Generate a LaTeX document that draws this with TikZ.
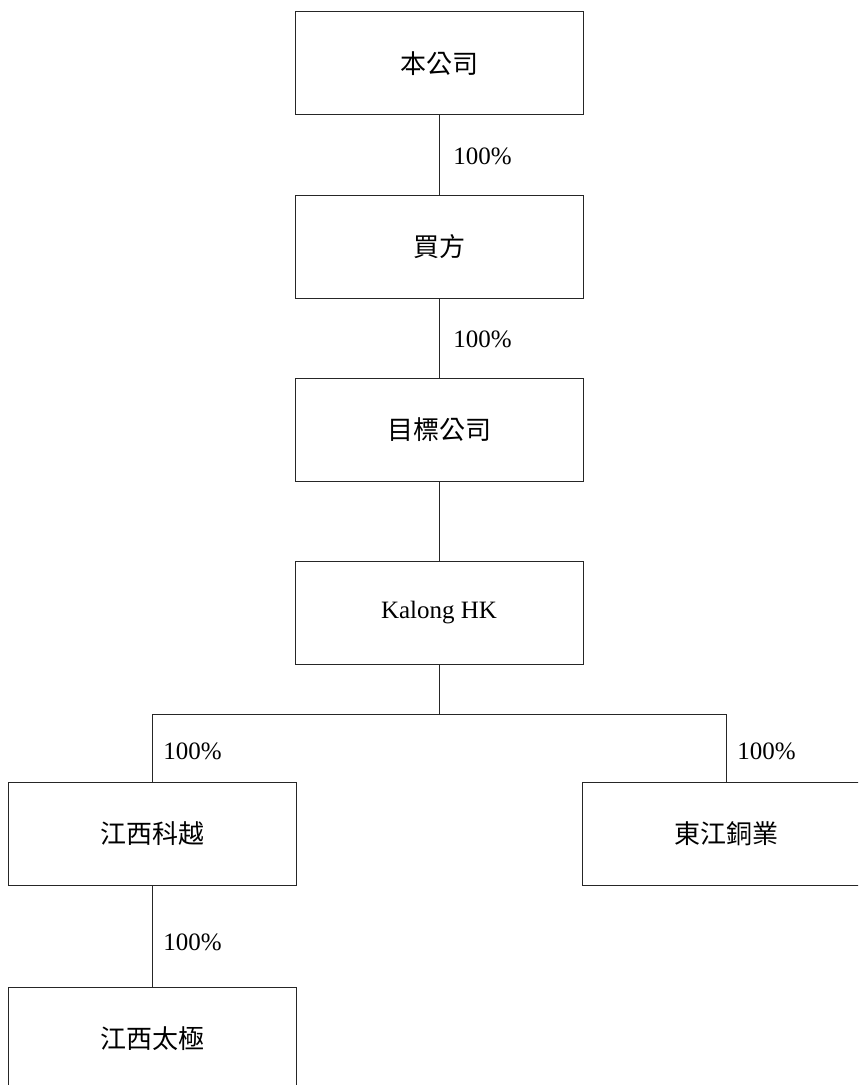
\documentclass[tikz,border=0pt]{standalone}
\usepackage{fontspec}
\setmainfont{Liberation Serif}
\newfontfamily\cjk{Noto Sans CJK TC}
\usepackage{tikz}
\usetikzlibrary{positioning,calc}
\tikzset{
    company/.style={
        rectangle,
        draw=black!85,
        line width=0.5pt,
        minimum width=144pt,
        minimum height=51.5pt,
        inner sep=0pt,
        font=\fontsize{13}{15}\selectfont\cjk
    },
    share/.style={anchor=west, inner sep=0pt, font=\fontsize{12.5}{15}\selectfont},
    link/.style={draw=black!85, line width=0.5pt}
}

\begin{document}
\begin{tikzpicture}[x=0.5pt, y=-0.5pt]
        % Area del disegno
        \path[use as bounding box, fill=white] (0,0) rectangle (858,1085);
        \clip (0,0) rectangle (858,1085);

        % Societa
        \node[company] (bengs) at (439,63.5) {本公司};
        \node[company] (maifang) at (439,247) {買方};
        \node[company] (mubiao) at (439,429.5) {目標公司};
        \node[company, font=\fontsize{12.5}{15}\selectfont] (kalong) at (439,613) {Kalong HK};
        \node[company] (kexue) at (152.5,834) {江西科越};
        \node[company] (tongye) at (726,834) {東江銅業};
        \node[company] (taiji) at (152.5,1038.5) {江西太極};

        % Collegamenti
        \draw[link] (bengs) -- (maifang);
        \draw[link] (maifang) -- (mubiao);
        \draw[link] (mubiao) -- (kalong);
        \coordinate (ramo) at (439,714);
        \draw[link] (kalong) -- (ramo);
        \draw[link] (ramo) -| (kexue);
        \draw[link] (ramo) -| (tongye);
        \draw[link] (kexue) -- (taiji);

        % Percentuali
        \node[share] (q1) at (453,156) {100\%};
        \node[share] (q2) at (453,339) {100\%};
        \node[share] (q3) at (163,751) {100\%};
        \node[share] (q4) at (737,751) {100\%};
        \node[share] (q5) at (163,942) {100\%};
    \end{tikzpicture}
\end{document}
